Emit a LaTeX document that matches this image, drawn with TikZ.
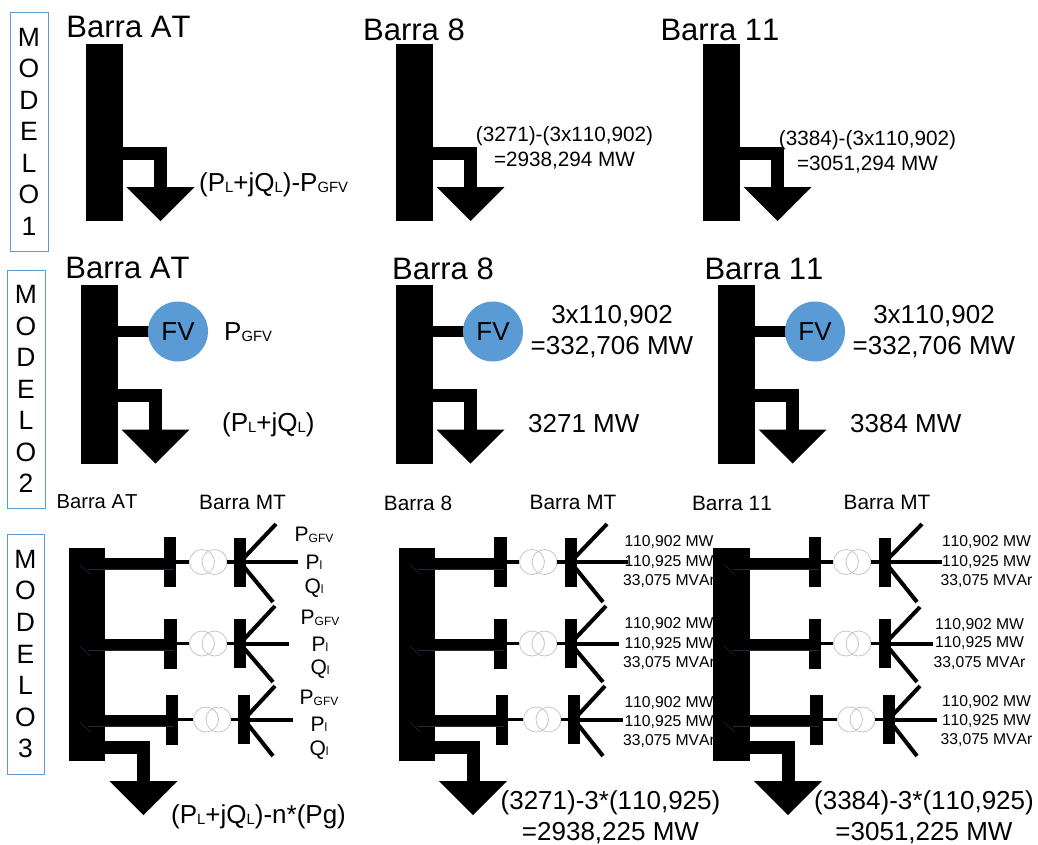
\documentclass[tikz,border=0pt]{standalone}
\usepackage{fontspec}
\setmainfont[Kerning=Off]{Liberation Sans}
\newcommand{\fsz}[1]{\fontsize{#1}{#1}\selectfont}
\newcommand{\lw}[1]{{\fontsize{0.57em}{1em}\selectfont\raisebox{-0.03em}{#1}}}
\definecolor{boxblue}{HTML}{5B9BD5}
\definecolor{trgray}{HTML}{C4C4C4}
\definecolor{inkblue}{HTML}{1B2F44}
\tikzset{
  bus/.style={fill=black,inner sep=0pt,outer sep=0pt,minimum width=#1},
  heavy/.style={draw=black,line width=13pt,line cap=butt,line join=miter},
  branch/.style={draw=black,line width=11.5pt},
  thinb/.style={draw=black,line width=3.5pt},
  feeder/.style={draw=black,line width=4pt},
  trafo/.style={circle,draw=trgray,line width=0.8pt,minimum size=25pt,inner sep=0pt,fill=none},
  fv/.style={circle,fill=boxblue,minimum size=60pt,inner sep=0pt,font=\fsz{26}},
  modelbox/.style={draw=boxblue,line width=0.9pt,inner sep=0pt,minimum width=37pt,align=center,font=\fsz{26.5}},
  txt/.style={inner sep=0pt,align=center},
  overlay/.style={draw=inkblue,line width=0.5pt}
}
% name, bar, xc, y of horizontal, top of head, tip
\newcommand{\loadarrow}[6]{%
  \coordinate (#1c) at (#3,#4);
  \coordinate (#1t) at (#3,#5);
  \coordinate (#1tip) at (#3,#6);
  \draw[heavy] (#2.center |- #1c) -| (#1t);
  \fill[black] (#3-34,#5) -- (#3+34,#5) -- (#1tip) -- cycle;
}
% prefix, main bar, y, small-bar x, trafo x1, mt x, end x, up, down
\newcommand{\unit}[9]{%
  \node[bus=12.5pt,minimum height=50pt] (#1s) at (#4,#3) {};
  \node[trafo] (#1a) at (#5,#3) {};
  \node[trafo] (#1b) at (#5+12.5,#3) {};
  \node[bus=12pt,minimum height=49pt] (#1m) at (#6,#3) {};
  \coordinate (#1e) at (#7,#3);
  \coordinate (#1u) at (#8);
  \coordinate (#1d) at (#9);
  \coordinate (#1k) at ([yshift=-1.5pt]#1s.center);
  \draw[branch] (#2.center |- #1k) -- (#1k);
  \draw[overlay] (#2.center |- #1k) ++(1,5.5) coordinate (#1o) -- ++(86,0);
  \draw[overlay] (#1o) ++(2.5,5.5) -- ++(-11,-10);
  \draw[thinb] (#1s.center) -- (#1a.west);
  \draw[thinb] (#1b.east) -- (#1m.center);
  \draw[feeder] (#1m.center) -- (#1e);
  \draw[feeder] (#1m.center) -- (#1u);
  \draw[feeder] (#1m.center) -- (#1d);
}
\begin{document}
\begin{tikzpicture}[x=1pt,y=-1pt]
\useasboundingbox (0,0) rectangle (1038,844);
% Model boxes
\node[modelbox,minimum height=239pt,minimum width=38pt] (mod1) at (29,131.5) {M\\[5pt]O\\[5pt]D\\[5pt]E\\[5pt]L\\[5pt]O\\[5pt]1};
\node[modelbox,minimum height=238pt,minimum width=38pt] (mod2) at (26,389) {M\\[5pt]O\\[5pt]D\\[5pt]E\\[5pt]L\\[5pt]O\\[5pt]2};
\node[modelbox,minimum height=240pt] (mod3) at (25.5,654) {M\\[5pt]O\\[5pt]D\\[5pt]E\\[5pt]L\\[5pt]O\\[5pt]3};
% Titles row 1
\node[txt,font=\fsz{31}] (t1a) at (128.5,27) {Barra AT};
\node[txt,font=\fsz{31}] (t1b) at (414,30) {Barra 8};
\node[txt,font=\fsz{31}] (t1c) at (720,30) {Barra 11};
% Row 1
\foreach \n/\cx/\hx in {a/104.5/160.5,b/414.5/470.5,c/721.5/777.5}{
  \node[bus=37pt,minimum height=177pt] (b1\n) at (\cx,132.5) {};
  \loadarrow{l1\n}{b1\n}{\hx}{153.5}{187}{221}
}
\node[txt,font=\fsz{26},anchor=west] (x1a) at (199,185) {(P\lw{L}+jQ\lw{L})-P\lw{GFV}};
\node[txt,font=\fsz{20.7}] (x1b) at (564.5,148) {(3271)-(3x110,902)\\[4.5pt]=2938,294 MW};
\node[txt,font=\fsz{20.7}] (x1c) at (867.5,151.5) {(3384)-(3x110,902)\\[4.5pt]=3051,294 MW};
% Titles row 2
\node[txt,font=\fsz{31}] (t2a) at (127.5,268) {Barra AT};
\node[txt,font=\fsz{31}] (t2b) at (443,269) {Barra 8};
\node[txt,font=\fsz{31}] (t2c) at (764,269) {Barra 11};
% Row 2
\foreach \n/\cx/\hx/\fx in {a/99.5/155.5/178,b/414.5/470.5/493,c/736.5/792.5/815}{
  \node[bus=37pt,minimum height=178.5pt] (b2\n) at (\cx,374.5) {};
  \coordinate (k2\n) at (\fx,331.5);
  \draw[branch] (b2\n.center |- k2\n) -- (k2\n);
  \node[fv] (f2\n) at (k2\n) {FV};
  \loadarrow{l2\n}{b2\n}{\hx}{395}{429.5}{463.5}
}
\node[txt,font=\fsz{26},anchor=west] (x2a) at (224,332) {P\lw{GFV}};
\node[txt,font=\fsz{26},anchor=west] (x2b) at (222,425) {(P\lw{L}+jQ\lw{L})};
\node[txt,font=\fsz{26}] (x2c) at (612,332) {3x110,902\\[5pt]=332,706 MW};
\node[txt,font=\fsz{26},anchor=west] (x2d) at (528,424) {3271 MW};
\node[txt,font=\fsz{26}] (x2e) at (934,332) {3x110,902\\[5pt]=332,706 MW};
\node[txt,font=\fsz{26},anchor=west] (x2f) at (850,424) {3384 MW};
% Titles row 3
\node[txt,font=\fsz{20.2}] (t3a) at (97,502) {Barra AT};
\node[txt,font=\fsz{20.8}] (t3b) at (242.5,502) {Barra MT};
\node[txt,font=\fsz{20.8}] (t3c) at (418,503) {Barra 8};
\node[txt,font=\fsz{20.8}] (t3d) at (573,502) {Barra MT};
\node[txt,font=\fsz{20.8}] (t3e) at (732,503) {Barra 11};
\node[txt,font=\fsz{20.8}] (t3f) at (887,502) {Barra MT};
% Row 3 main bars
\node[bus=36.5pt,minimum height=213pt] (b3a) at (87,654.5) {};
\node[bus=36.5pt,minimum height=213pt] (b3b) at (417,654.5) {};
\node[bus=36.5pt,minimum height=213pt] (b3c) at (731.5,654.5) {};
% Units, left
\unit{ua}{b3a}{562}{170}{202}{240}{{298}}{276,524}{273,602}
\unit{ub}{b3a}{643.5}{170.5}{202}{240}{{289}}{275,606}{273,682}
\unit{uc}{b3a}{719.5}{172}{206}{244}{{293}}{275,686}{273,756}
% Units, middle
\unit{va}{b3b}{562}{500.5}{532}{570.5}{{628}}{607,524}{603,602}
\unit{vb}{b3b}{643.5}{500.5}{532}{570.5}{{619}}{606,606}{603,682}
\unit{vc}{b3b}{719.5}{502}{536}{574}{{623}}{605,686}{603,756}
% Units, right
\unit{wa}{b3c}{562}{815}{846}{885}{{942}}{922,524}{917,602}
\unit{wb}{b3c}{643.5}{815}{846}{885}{{933}}{920,607}{917,682}
\unit{wc}{b3c}{719.5}{816.5}{850}{888.5}{{937}}{920,686}{917,756}
% Loads
\loadarrow{l3a}{b3a}{143.5}{747}{781}{815}
\loadarrow{l3b}{b3b}{473}{747}{781}{815}
\loadarrow{l3c}{b3c}{788}{747}{781}{815}
% Left labels
\node[txt,font=\fsz{21}] (p1) at (314,535) {P\lw{GFV}};
\node[txt,font=\fsz{21}] (p2) at (314,562) {P\lw{l}};
\node[txt,font=\fsz{21}] (p3) at (314,588) {Q\lw{l}};
\node[txt,font=\fsz{21}] (p4) at (320,618) {P\lw{GFV}};
\node[txt,font=\fsz{21}] (p5) at (320,644) {P\lw{l}};
\node[txt,font=\fsz{21}] (p6) at (320,669) {Q\lw{l}};
\node[txt,font=\fsz{21}] (p7) at (319,698) {P\lw{GFV}};
\node[txt,font=\fsz{21}] (p8) at (319,724) {P\lw{l}};
\node[txt,font=\fsz{21}] (p9) at (319,750) {Q\lw{l}};
% Middle labels
\node[txt,font=\fsz{15.7}] (q1) at (669,542) {110,902 MW};
\node[txt,font=\fsz{15.7}] (q2) at (669,562) {110,925 MW};
\node[txt,font=\fsz{15.7}] (q3) at (669,581) {33,075 MVAr};
\node[txt,font=\fsz{15.7}] (q4) at (669,624) {110,902 MW};
\node[txt,font=\fsz{15.7}] (q5) at (669,644) {110,925 MW};
\node[txt,font=\fsz{15.7}] (q6) at (669,663) {33,075 MVAr};
\node[txt,font=\fsz{15.7}] (q7) at (669,703) {110,902 MW};
\node[txt,font=\fsz{15.7}] (q8) at (669,722) {110,925 MW};
\node[txt,font=\fsz{15.7}] (q9) at (669,741) {33,075 MVAr};
% Right labels
\node[txt,font=\fsz{15.7}] (r1) at (986.5,542) {110,902 MW};
\node[txt,font=\fsz{15.7}] (r2) at (986.5,562) {110,925 MW};
\node[txt,font=\fsz{15.7}] (r3) at (986.5,581) {33,075 MVAr};
\node[txt,font=\fsz{15.7}] (r4) at (979.5,625) {110,902 MW};
\node[txt,font=\fsz{15.7}] (r5) at (979.5,643) {110,925 MW};
\node[txt,font=\fsz{15.7}] (r6) at (979.5,663) {33,075 MVAr};
\node[txt,font=\fsz{15.7}] (r7) at (986.5,702) {110,902 MW};
\node[txt,font=\fsz{15.7}] (r8) at (986.5,721) {110,925 MW};
\node[txt,font=\fsz{15.7}] (r9) at (986.5,740) {33,075 MVAr};
% Bottom labels
\node[txt,font=\fsz{26},anchor=west] (y1) at (171,817) {(P\lw{L}+jQ\lw{L})-n*(Pg)};
\node[txt,font=\fsz{26}] (y2) at (610.5,817) {(3271)-3*(110,925)\\[5pt]=2938,225 MW};
\node[txt,font=\fsz{26}] (y3) at (924,817) {(3384)-3*(110,925)\\[5pt]=3051,225 MW};
\end{tikzpicture}
\end{document}
